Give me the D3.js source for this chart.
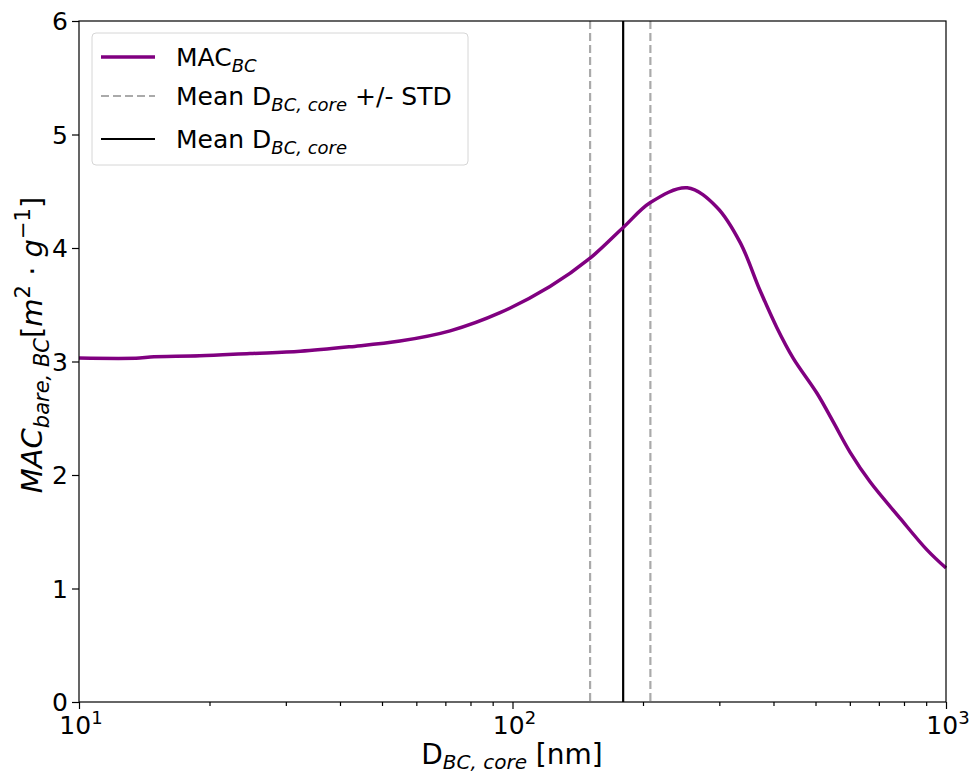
<!DOCTYPE html>
<html>
<head>
<meta charset="utf-8">
<script src="https://cdn.jsdelivr.net/npm/d3@7"></script>
<style>
  body { margin: 0; background: #fff; }
  text { font-family: "DejaVu Sans", sans-serif; fill: #000; }
</style>
</head>
<body>
<svg id="chart" width="974" height="776"></svg>
<script>
// diameter (nm) and MAC values
const diam = [10, 13.8, 14.6, 19, 24.8, 32.4, 42.2, 55, 71.8, 93.6, 122, 151, 180, 208, 253, 296, 335, 372, 407, 444, 504, 549, 601, 668, 783, 904, 1000]
const mac = [3.03, 3.03, 3.04, 3.05, 3.07, 3.09, 3.13, 3.18, 3.27, 3.43, 3.66, 3.91, 4.18, 4.40, 4.53, 4.36, 4.05, 3.63, 3.30, 3.03, 2.72, 2.47, 2.20, 1.94, 1.62, 1.34, 1.18]
const meanD = 180
const stdLines = [151, 208]
const yTicks = [0, 1, 2, 3, 4, 5, 6]
const xTicks = [10, 100, 1000]

let svg = d3.select('#chart')
let mLeft = 79, mRight = 946, mTop = 21, mBottom = 702

let xScale = d3.scaleLog().domain([10, 1000]).range([mLeft, mRight])
let yScale = d3.scaleLinear().domain([0, 6]).range([mBottom, mTop])

let data = diam.map((d, i) => ({d: d, v: mac[i]}))

// vertical reference lines
svg.append('g').selectAll('line')
  .data(stdLines)
  .enter().append('line')
    .attr('x1', d => xScale(d)).attr('x2', d => xScale(d))
    .attr('y1', mTop).attr('y2', mBottom)
    .style('stroke', '#aaaaaa').style('stroke-width', 2.2)
    .style('stroke-dasharray', '8,4')
svg.append('line')
  .attr('x1', xScale(meanD)).attr('x2', xScale(meanD))
  .attr('y1', mTop).attr('y2', mBottom)
  .style('stroke', '#000').style('stroke-width', 2.2)

// MAC curve
let line = d3.line()
  .x(d => xScale(d.d))
  .y(d => yScale(d.v))
  .curve(d3.curveCatmullRom.alpha(0.5))
svg.append('path')
  .datum(data)
  .attr('d', line)
  .style('fill', 'none')
  .style('stroke', 'purple')
  .style('stroke-width', 3.5)

// axes
let minor = []
for (let dec of [10, 100]) for (let k = 2; k < 10; k++) minor.push(dec * k)

svg.append('g')
  .attr('transform', `translate(0, ${mBottom})`)
  .call(d3.axisBottom(xScale).tickValues(minor).tickSize(4).tickFormat(''))
svg.append('g')
  .attr('transform', `translate(0, ${mBottom})`)
  .call(d3.axisBottom(xScale).tickValues(xTicks).tickSize(7).tickFormat(''))
svg.append('g')
  .attr('transform', `translate(${mLeft}, 0)`)
  .call(d3.axisLeft(yScale).tickValues(yTicks).tickSize(7).tickFormat(''))
svg.selectAll('.domain').remove()
svg.selectAll('.tick line').style('stroke', '#000').style('stroke-width', 1.2)

// frame
svg.append('rect')
  .attr('x', mLeft).attr('y', mTop)
  .attr('width', mRight - mLeft).attr('height', mBottom - mTop)
  .style('fill', 'none').style('stroke', '#000').style('stroke-width', 1.2)

// tick labels
svg.append('g').selectAll('text')
  .data(yTicks)
  .enter().append('text')
    .attr('x', mLeft - 11)
    .attr('y', d => yScale(d) + 9)
    .attr('text-anchor', 'end')
    .style('font-size', '25px')
    .text(d => d)

let xl = svg.append('g').selectAll('text')
  .data(xTicks)
  .enter().append('text')
    .attr('x', d => xScale(d) + 2)
    .attr('y', mBottom + 32)
    .attr('text-anchor', 'middle')
    .style('font-size', '25px')
xl.append('tspan').text('10')
xl.append('tspan').attr('dy', -10).style('font-size', '18px').text(d => Math.round(Math.log10(d)))

// x label
let xlab = svg.append('text')
  .attr('x', 512).attr('y', 764)
  .attr('text-anchor', 'middle')
  .style('font-size', '28px')
xlab.append('tspan').text('D')
xlab.append('tspan').attr('dy', 5).style('font-size', '20px').style('font-style', 'italic').text('BC, core')
xlab.append('tspan').attr('dy', -5).text(' [nm]')

// y label
let ylab = svg.append('text')
  .attr('transform', 'translate(42, 345) rotate(-90)')
  .attr('text-anchor', 'middle')
  .style('font-size', '29px')
  .style('font-style', 'italic')
ylab.append('tspan').text('MAC')
ylab.append('tspan').attr('dy', 7).style('font-size', '21px').text('bare, BC')
ylab.append('tspan').attr('dy', -7).style('font-style', 'normal').text('[')
ylab.append('tspan').text('m')
ylab.append('tspan').attr('dy', -12).style('font-size', '21px').style('font-style', 'normal').text('2')
ylab.append('tspan').attr('dy', 12).style('font-style', 'normal').text(' · ')
ylab.append('tspan').text('g')
ylab.append('tspan').attr('dy', -12).style('font-size', '21px').style('font-style', 'normal').text('−1')
ylab.append('tspan').attr('dy', 12).style('font-style', 'normal').text(']')

// legend
let legend = svg.append('g')
legend.append('rect')
  .attr('x', 92).attr('y', 33).attr('width', 376).attr('height', 132).attr('rx', 4)
  .style('fill', '#fff').style('fill-opacity', 0.8)
  .style('stroke', '#d6d6d6').style('stroke-width', 1)

let entries = [
  {y: 57, color: 'purple', dash: null, w: 3.5, main: 'MAC', sub: 'BC', tail: ''},
  {y: 96, color: '#aaaaaa', dash: '8,4', w: 2.2, main: 'Mean D', sub: 'BC, core', tail: ' +/- STD'},
  {y: 139, color: '#000', dash: null, w: 2.2, main: 'Mean D', sub: 'BC, core', tail: ''}
]
let le = legend.selectAll('g.entry')
  .data(entries)
  .enter().append('g').attr('class', 'entry')
le.append('line')
  .attr('x1', 101).attr('x2', 155)
  .attr('y1', d => d.y).attr('y2', d => d.y)
  .style('stroke', d => d.color)
  .style('stroke-width', d => d.w)
  .style('stroke-dasharray', d => d.dash)
let lt = le.append('text')
  .attr('x', 176).attr('y', d => d.y + 9)
  .style('font-size', '25px')
lt.append('tspan').text(d => d.main)
lt.append('tspan').attr('dy', 6).style('font-size', '18px').style('font-style', 'italic').text(d => d.sub)
lt.append('tspan').attr('dy', -6).text(d => d.tail)
</script>
</body>
</html>
